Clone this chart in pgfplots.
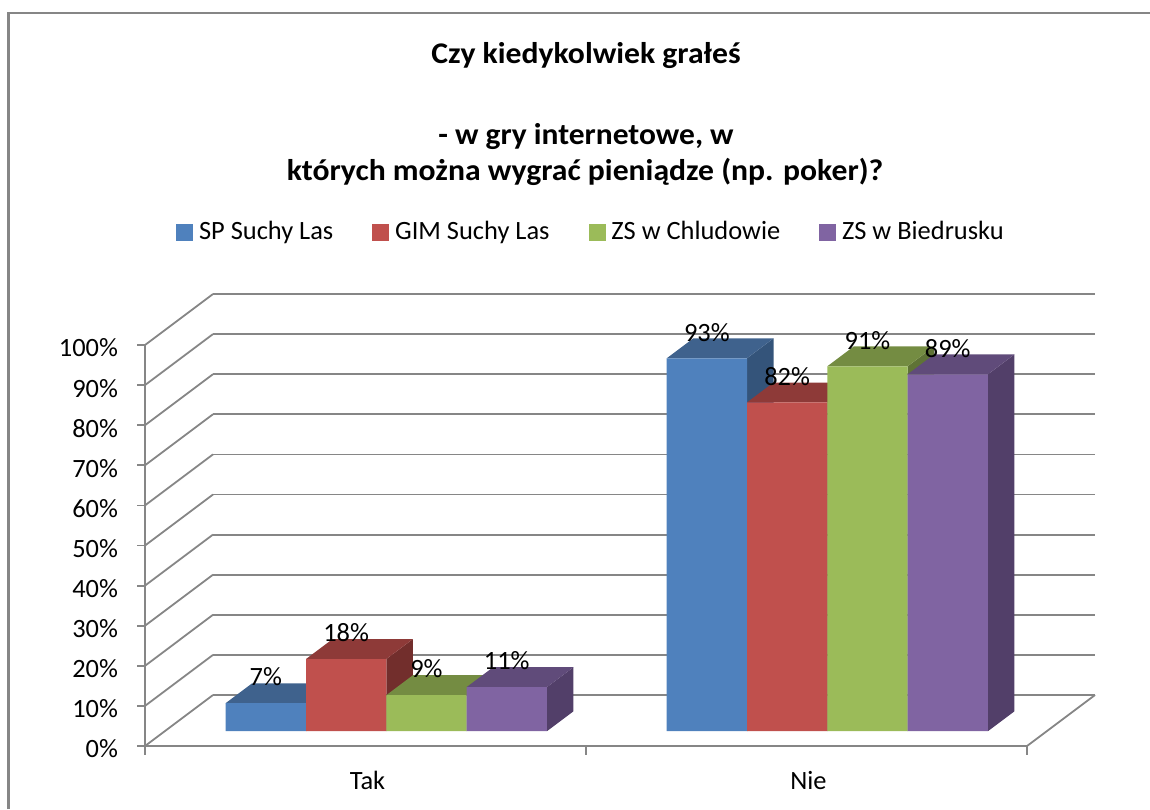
\documentclass[border=0pt]{standalone}
\usepackage{fontspec}
\setmainfont{Carlito}
\usepackage{pgfplots}
\pgfplotsset{compat=1.18}
\definecolor{gridc}{HTML}{868686}
\definecolor{bluef}{HTML}{4F81BD}\definecolor{bluet}{HTML}{3F628D}\definecolor{blues}{HTML}{34547A}
\definecolor{redf}{HTML}{C0504D}\definecolor{redt}{HTML}{8E3A38}\definecolor{reds}{HTML}{722E2C}
\definecolor{greenf}{HTML}{9BBB59}\definecolor{greent}{HTML}{748C42}\definecolor{greens}{HTML}{5F7336}
\definecolor{purplef}{HTML}{8064A2}\definecolor{purplet}{HTML}{604B7A}\definecolor{purples}{HTML}{523F69}
% one 3D bar: x0, x1, value, colour stem
\newcommand\threedbar[4]{%
 \addplot3[fill=#4s,draw=none,forget plot] coordinates {(#2,0.29,0)(#2,0.68,0)(#2,0.68,#3)(#2,0.29,#3)(#2,0.29,0)};
 \addplot3[fill=#4t,draw=none,forget plot] coordinates {(#1,0.29,#3)(#2,0.29,#3)(#2,0.68,#3)(#1,0.68,#3)(#1,0.29,#3)};
 \addplot3[fill=#4f,draw=none,forget plot] coordinates {(#1,0.29,0)(#2,0.29,0)(#2,0.29,#3)(#1,0.29,#3)(#1,0.29,0)};
}
\newcommand\vallabel[3]{\node[font=\fontsize{13.2}{15}\selectfont,inner sep=0pt] at (axis cs:#1,0.29,#2+6.5) {#3\%};}
\begin{document}
\begin{tikzpicture}[x=0.5pt,y=-0.5pt]
\useasboundingbox (0,0) rectangle (1150,809);
\draw[gridc,line width=1.3pt] (8.5,809) -- (8.5,13) -- (1150,13);
\node[font=\bfseries\fontsize{15}{16}\selectfont,inner sep=0pt,xscale=1.056] at (586,56) {Czy kiedykolwiek grałeś};
\node[font=\bfseries\fontsize{15}{16}\selectfont,inner sep=0pt,xscale=1.05] at (586,137) {- w gry internetowe, w};
\node[font=\bfseries\fontsize{15}{16}\selectfont,inner sep=0pt,xscale=1.056] at (585,172) {których można wygrać pieniądze (np. poker)?};
\begin{axis}[
  at={(72.5pt,-373pt)},anchor=origin,
  x={(220.5pt,0pt)},y={(34pt,25.5pt)},z={(0pt,2.005pt)},
  xmin=0,xmax=2,ymin=0,ymax=1,zmin=0,zmax=100,
  clip=false,
  axis line style={draw=none},
  zmajorgrids=true,
  grid style={gridc,line width=0.9pt},
  tick style={draw=none},
  major tick length=0pt,
  xtick=\empty,
  extra x ticks={0.5,1.5},
  extra x tick labels={Tak,Nie},
  extra x tick style={xticklabel pos=left,xticklabel style={anchor=center,xshift=1pt,yshift=-17pt}},
  ytick=\empty,
  ztick={0,10,...,100},
  ztick pos=left,
  zticklabel pos=left,
  zticklabel={\pgfmathprintnumber{\tick}\%},
  /pgf/number format/assume math mode=true,
  tick label style={font=\fontsize{13.2}{15}\selectfont},
  zticklabel style={anchor=east,xshift=-10pt,yshift=-1.5pt},
  legend columns=4,
  legend style={at={(axis cs:1.0136,0,128.2)},anchor=center,draw=none,fill=none,
    font=\fontsize{13.2}{15}\selectfont,/tikz/every even column/.append style={column sep=17.5pt}},
  legend image code/.code={\fill[#1] (0pt,-4pt) rectangle (8pt,4pt);\path (9pt,0pt);},
]
\addlegendimage{bluef}\addlegendentry{SP Suchy Las}
\addlegendimage{redf}\addlegendentry{GIM Suchy Las}
\addlegendimage{greenf}\addlegendentry{ZS w Chludowie}
\addlegendimage{purplef}\addlegendentry{ZS w Biedrusku}
% floor edges and value axis
\addplot3[gridc,line width=0.9pt,forget plot] coordinates {(0,0,100)(0,0,0)(2,0,0)(2,1,0)};
% tick marks
\pgfplotsinvokeforeach{0,10,...,100}{\addplot3[gridc,line width=0.9pt,forget plot] coordinates {(-0.018,0,#1)(0,0,#1)};}
\pgfplotsinvokeforeach{0,1,2}{\addplot3[gridc,line width=0.9pt,forget plot] coordinates {(#1,0,0)(#1,0,-2.2)};}
\threedbar{0.1383}{0.3204}{7}{blue}
\threedbar{0.3204}{0.5025}{18}{red}
\threedbar{0.5025}{0.6846}{9}{green}
\threedbar{0.6846}{0.8667}{11}{purple}
\threedbar{1.1383}{1.3204}{93}{blue}
\threedbar{1.3204}{1.5025}{82}{red}
\threedbar{1.5025}{1.6846}{91}{green}
\threedbar{1.6846}{1.8667}{89}{purple}
\vallabel{0.2293}{7}{7}
\vallabel{0.4114}{18}{18}
\vallabel{0.5935}{9}{9}
\vallabel{0.7756}{11}{11}
\vallabel{1.2293}{93}{93}
\vallabel{1.4114}{82}{82}
\vallabel{1.5935}{91}{91}
\vallabel{1.7756}{89}{89}
\end{axis}
\end{tikzpicture}
\end{document}
